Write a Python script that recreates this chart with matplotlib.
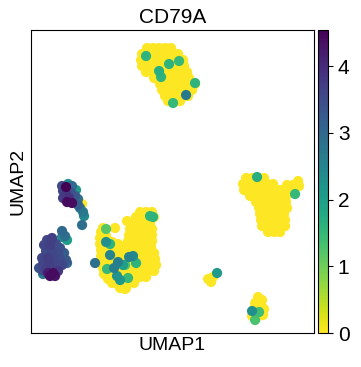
import numpy as np
import matplotlib
matplotlib.use('Agg')
import matplotlib.pyplot as plt

plt.rcParams['font.family'] = ['Liberation Sans', 'DejaVu Sans']

# cells with no CD79A expression (UMAP1, UMAP2, UMAP2 axis runs downward)
zero_umap1 = [
    # top cluster
    147, 153, 159, 165, 171,
    142, 148, 154, 160, 166, 172, 178,
    141, 147, 153, 159, 165, 171, 177, 183,
    142, 148, 154, 160, 166, 172, 178, 184,
    146, 152, 158, 164, 170, 176, 182, 187,
    154, 160, 166, 172, 178, 184, 189,
    160, 166, 172, 178, 184, 190, 195,
    162, 168, 174, 180, 186, 192,
    165, 171, 177, 183, 188,
    168, 174, 180,
    # right cluster
    246, 252, 258, 264,
    243, 249, 255, 261, 267, 273, 287, 293, 298, 299,
    244, 250, 256, 262, 268, 274, 280, 286, 292,
    250, 256, 262, 268, 274, 280, 286,
    256, 262, 268, 274, 280, 286,
    259, 265, 271, 277, 283, 287,
    260, 266, 272, 278, 284,
    261, 267, 273, 279, 285,
    262, 268, 274, 280, 285,
    268, 274, 280,
    # middle cluster
    140, 146, 152,
    136, 142, 148, 154,
    132, 138, 144, 150,
    130, 136, 142, 148, 152,
    129, 135, 141, 147, 152,
    128, 134, 140, 146, 152,
    127, 133, 139, 145, 151,
    126, 132, 138, 144, 150, 154,
    127, 133, 139, 145, 151, 155,
    128, 134, 140, 146, 152, 156,
    125, 131, 137, 143, 149, 154,
    122, 128, 134, 140, 146,
    116, 122, 128, 134,
    120, 126,
    101, 100, 100, 101, 101, 102, 103, 104, 108, 112, 106, 106, 107, 103,
    115, 127, 112, 118, 124, 110, 116, 122, 112, 118, 124, 110, 116, 122,
    112, 118, 115, 120, 125,
    # small clusters
    208, 211, 213,
    258, 262, 255, 261, 264, 254, 258, 263, 252, 256,
    # left top cluster
    82,
]
zero_umap2 = [
    48, 48, 48, 48, 48,
    54, 54, 54, 54, 54, 54, 54,
    60, 60, 60, 60, 60, 60, 60, 60,
    66, 66, 66, 66, 66, 66, 66, 66,
    72, 72, 72, 72, 72, 72, 72, 72,
    78, 78, 78, 78, 78, 78, 78,
    84, 84, 84, 84, 84, 84, 84,
    90, 90, 90, 90, 90, 90,
    96, 96, 96, 96, 96,
    101, 101, 101,
    178, 178, 178, 178,
    184, 184, 184, 184, 184, 184, 185, 185, 181, 186,
    190, 190, 190, 190, 190, 190, 190, 190, 190,
    196, 196, 196, 196, 196, 196, 196,
    202, 202, 202, 202, 202, 202,
    208, 208, 208, 208, 208, 208,
    214, 214, 214, 214, 214,
    220, 220, 220, 220, 220,
    226, 226, 226, 226, 226,
    232, 232, 232,
    212, 212, 212,
    217, 217, 217, 217,
    223, 223, 223, 223,
    229, 229, 229, 229, 229,
    235, 235, 235, 235, 235,
    241, 241, 241, 241, 241,
    247, 247, 247, 247, 247,
    253, 253, 253, 253, 253, 253,
    259, 259, 259, 259, 259, 259,
    265, 265, 265, 265, 265, 265,
    271, 271, 271, 271, 271, 271,
    277, 277, 277, 277, 277,
    283, 283, 283, 283,
    288, 288,
    232, 238, 244, 250, 256, 262, 268, 274, 279, 283, 236, 252, 258, 228,
    228, 221, 242, 244, 246, 250, 250, 252, 258, 257, 258, 264, 264, 270,
    274, 272, 280, 285, 289,
    279, 282, 277,
    297, 300, 303, 305, 309, 309, 314, 315, 316, 318,
    204,
]

# cells expressing CD79A
expr_umap1 = [
    # top cluster
    146, 169, 179, 159, 161, 195, 186, 173,
    # right cluster
    257, 295,
    # small clusters
    217, 252, 259, 255,
    # middle cluster
    106, 106, 110, 110, 118, 114, 107, 125, 117, 120, 128, 129, 133, 136, 95, 150, 153, 123,
    # left top cluster
    66, 63, 68, 72, 76, 66, 71, 75, 78, 67, 72, 63, 80, 78, 83, 84, 82, 69, 62,
    # left bottom cluster
    62, 65, 67, 62, 47, 52, 44, 50, 56, 60, 46, 52, 58, 64, 42, 48, 54, 60, 66,
    43, 49, 56, 62, 67, 42, 46, 58, 43, 48, 53, 50, 55, 39,
]
expr_umap2 = [
    56, 64, 61, 71, 77, 83, 95, 103,
    177, 194,
    273, 311, 312, 320,
    229, 242, 244, 255, 262, 268, 269, 265, 276, 280, 278, 257, 256, 263, 263, 216, 217, 265,
    187, 191, 184, 186, 190, 194, 193, 196, 199, 202, 203, 198, 208, 205, 212, 216, 225, 198, 186,
    231, 236, 240, 237, 240, 238, 245, 245, 244, 248, 251, 252, 253, 253, 258, 258, 259, 259, 260,
    264, 264, 265, 265, 263, 270, 269, 271, 274, 273, 273, 276, 276, 268,
]
expr_cd79a = [
    1.6, 1.6, 1.5, 1.7, 1.6, 1.6, 2.7, 1.5,
    1.7, 1.5,
    2.1, 2.3, 1.4, 1.3,
    1.2, 2.3, 1.6, 2.5, 2.6, 2.6, 1.5, 1.3, 2.2, 2.1, 1.5, 2.5, 2.4, 1.6, 2.9, 1.6, 1.6, 2.0,
    4.54, 3.6, 2.3, 3.0, 2.1, 3.8, 3.4, 3.3, 2.9, 4.4, 4.4, 3.7, 2.8, 3.2, 2.7, 2.4, 2.9, 3.9, 3.5,
    3.0, 2.9, 2.0, 2.4, 3.6, 3.7, 3.6, 3.7, 3.5, 3.4, 3.5, 3.6, 3.5, 3.2, 3.6, 3.7, 3.6, 3.5, 3.3,
    3.6, 3.7, 3.6, 3.6, 3.1, 3.5, 3.7, 3.8, 2.7, 4.2, 4.4, 4.4, 4.3, 3.4,
]

x = np.array(zero_umap1 + expr_umap1, dtype=float)
y = np.array(zero_umap2 + expr_umap2, dtype=float)
v = np.array([0.0] * len(zero_umap1) + expr_cd79a)
order = np.argsort(v, kind='stable')

fig = plt.figure(figsize=(3.61, 3.67), dpi=100)
ax = fig.add_axes([0.086, 0.0926, 0.784, 0.8256])
cax = fig.add_axes([0.881, 0.0926, 0.028, 0.8256])

sc = ax.scatter(x[order], y[order], c=v[order], cmap='viridis_r', vmin=0, vmax=4.54,
                s=54, linewidths=0, plotnonfinite=True)
ax.set_xlim(31, 314)
ax.set_ylim(333, 30)
ax.set_xticks([])
ax.set_yticks([])
ax.set_title('CD79A', fontsize=15, pad=5)
ax.set_xlabel('UMAP1', fontsize=14, labelpad=3)
ax.set_ylabel('UMAP2', fontsize=14, labelpad=3)

cb = fig.colorbar(sc, cax=cax)
cb.set_ticks([0, 1, 2, 3, 4])
cb.ax.tick_params(labelsize=15)
cb.outline.set_linewidth(0.8)

fig.savefig('out.png', dpi=100)
